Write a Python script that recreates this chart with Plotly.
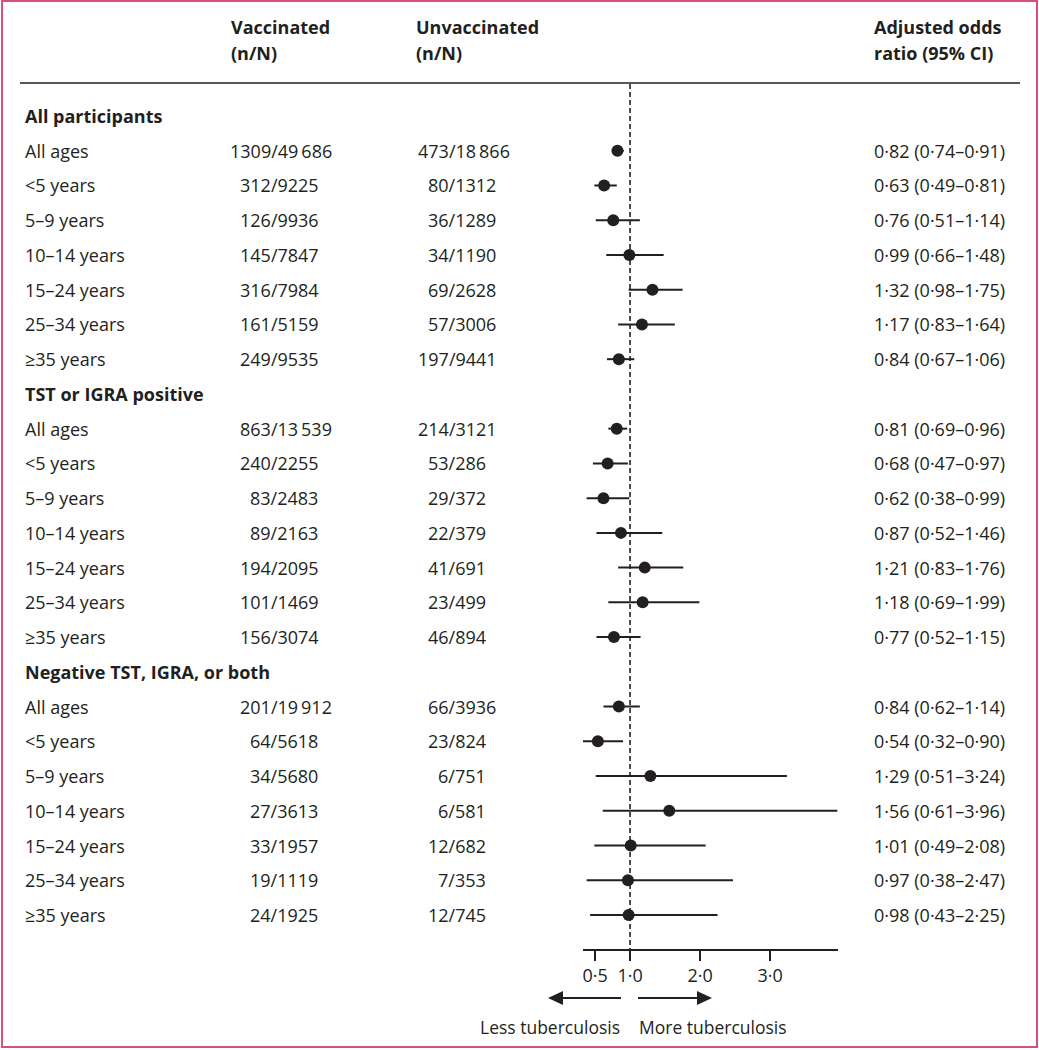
import plotly.graph_objects as go

# ---- data -------------------------------------------------------------
groups = ["All participants", "TST or IGRA positive", "Negative TST, IGRA, or both"]
ages = ["All ages", "<5 years", "5–9 years", "10–14 years", "15–24 years", "25–34 years", "≥35 years"]

vacc_n = [1309, 312, 126, 145, 316, 161, 249,
          863, 240, 83, 89, 194, 101, 156,
          201, 64, 34, 27, 33, 19, 24]
vacc_N = ["49\u2009686", "9225", "9936", "7847", "7984", "5159", "9535",
          "13\u2009539", "2255", "2483", "2163", "2095", "1469", "3074",
          "19\u2009912", "5618", "5680", "3613", "1957", "1119", "1925"]
unvacc_n = [473, 80, 36, 34, 69, 57, 197,
            214, 53, 29, 22, 41, 23, 46,
            66, 23, 6, 6, 12, 7, 12]
unvacc_N = ["18\u2009866", "1312", "1289", "1190", "2628", "3006", "9441",
            "3121", "286", "372", "379", "691", "499", "894",
            "3936", "824", "751", "581", "682", "353", "745"]
odds = [0.82, 0.63, 0.76, 0.99, 1.32, 1.17, 0.84,
        0.81, 0.68, 0.62, 0.87, 1.21, 1.18, 0.77,
        0.84, 0.54, 1.29, 1.56, 1.01, 0.97, 0.98]
ci_low = [0.74, 0.49, 0.51, 0.66, 0.98, 0.83, 0.67,
          0.69, 0.47, 0.38, 0.52, 0.83, 0.69, 0.52,
          0.62, 0.32, 0.51, 0.61, 0.49, 0.38, 0.43]
ci_high = [0.91, 0.81, 1.14, 1.48, 1.75, 1.64, 1.06,
           0.96, 0.97, 0.99, 1.46, 1.76, 1.99, 1.15,
           1.14, 0.90, 3.24, 3.96, 2.08, 2.47, 2.25]
tick_vals = [0.5, 1.0, 2.0, 3.0]

# ---- layout helpers ---------------------------------------------------
W, H = 1039, 1050
INK = "#231f20"
FONT = "Open Sans, Noto Sans, sans-serif"
FS = 18
DIGIT = 0.559 * FS           # Open Sans tabular digit width
ROW0, ROWH = 81.26, 34.74   # pixel y of row 0, row height


def px(x):
    return x / W


def py(y):
    return 1 - y / H


def dot(v):
    return f"{v:.2f}".replace(".", "·")


def txt(x, y, s, anchor="left", bold=False, yref="y", size=FS):
    return dict(x=x, y=y, xref="paper", yref=yref, text=s, showarrow=False,
                xanchor=anchor, yanchor="middle", borderpad=0,
                font=dict(size=size, family=FONT, color=INK, weight=700 if bold else 400))


# build rows: header row then 7 age rows for each group
labels, row_y, is_head = [], [], []
r = 1
for g in groups:
    labels.append(g); row_y.append(r); is_head.append(True); r += 1
    for a in ages:
        labels.append(a); row_y.append(r); is_head.append(False); r += 1
data_rows = [y for y, h in zip(row_y, is_head) if not h]

fig = go.Figure()

# confidence intervals
xs, ys = [], []
for lo, hi, y in zip(ci_low, ci_high, data_rows):
    xs += [lo, hi, None]
    ys += [y, y, None]
fig.add_trace(go.Scatter(x=xs, y=ys, mode="lines", line=dict(color=INK, width=2),
                         hoverinfo="skip"))
fig.add_trace(go.Scatter(x=odds, y=data_rows, mode="markers",
                         marker=dict(color=INK, size=12, line=dict(width=0))))

ann = []
# column headers
for x, t1, t2 in [(230, "Vaccinated", "(n/N)"), (415, "Unvaccinated", "(n/N)"),
                  (873, "Adjusted odds", "ratio (95% CI)")]:
    ann.append(txt(px(x), py(27), t1, bold=True, yref="paper"))
    ann.append(txt(px(x), py(53), t2, bold=True, yref="paper"))

# row labels
for lab, y, h in zip(labels, row_y, is_head):
    ann.append(txt(px(24), y, lab, bold=h))

# counts (lined up on the slash) and odds ratio text
for i, y in enumerate(data_rows):
    for slash_x, n, N in [(269, vacc_n[i], vacc_N[i]), (447, unvacc_n[i], unvacc_N[i])]:
        left = slash_x - len(str(n)) * DIGIT
        ann.append(txt(px(left), y, f"{n}/{N}"))
    s = f"{dot(odds[i])} ({dot(ci_low[i])}–{dot(ci_high[i])})"
    ann.append(txt(px(873), y, s))

# direction labels
ann.append(txt(px(621), py(1027), "Less tuberculosis", anchor="right", yref="paper", size=17.5))
ann.append(txt(px(638), py(1027), "More tuberculosis", anchor="left", yref="paper", size=17.5))

shapes = [
    # outer frame
    dict(type="rect", xref="paper", yref="paper", x0=px(2), x1=px(1037), y0=py(1047), y1=py(1),
         line=dict(color="#d8507a", width=2)),
    # header rule
    dict(type="line", xref="paper", yref="paper", x0=px(20), x1=px(1020), y0=py(83), y1=py(83),
         line=dict(color=INK, width=1.6)),
    # null line
    dict(type="line", xref="x", yref="paper", x0=1, x1=1, y0=py(84), y1=py(950),
         line=dict(color=INK, width=1.6, dash="5px,3px")),
    # arrows
    dict(type="line", xref="paper", yref="paper", x0=px(621), x1=px(560), y0=py(998), y1=py(998),
         line=dict(color=INK, width=2)),
    dict(type="path", xref="paper", yref="paper",
         path=f"M {px(548)} {py(998)} L {px(563)} {py(991)} L {px(563)} {py(1005)} Z",
         fillcolor=INK, line=dict(width=0)),
    dict(type="line", xref="paper", yref="paper", x0=px(638), x1=px(700), y0=py(998), y1=py(998),
         line=dict(color=INK, width=2)),
    dict(type="path", xref="paper", yref="paper",
         path=f"M {px(712)} {py(998)} L {px(697)} {py(991)} L {px(697)} {py(1005)} Z",
         fillcolor=INK, line=dict(width=0)),
]

fig.update_layout(
    width=W, height=H, margin=dict(l=0, r=0, t=0, b=0),
    paper_bgcolor="white", plot_bgcolor="rgba(0,0,0,0)",
    showlegend=False, annotations=ann, shapes=shapes,
    font=dict(family=FONT, size=FS, color=INK),
    xaxis=dict(domain=[px(583), px(838)], range=[0.328, 3.97], anchor="free", position=py(950),
               showline=True, linecolor=INK, linewidth=1.6, ticks="outside", ticklen=10,
               tickwidth=1.6, tickcolor=INK, tickvals=tick_vals,
               ticktext=[dot(v)[:-1] for v in tick_vals], showgrid=False, zeroline=False,
               tickfont=dict(size=FS, family=FONT, color=INK)),
    yaxis=dict(domain=[0, 1], range=[(H - ROW0) / ROWH, -ROW0 / ROWH], visible=False),
)

fig.write_html("out.html", config={"displayModeBar": False},
               post_script="document.body.style.margin='0';")
